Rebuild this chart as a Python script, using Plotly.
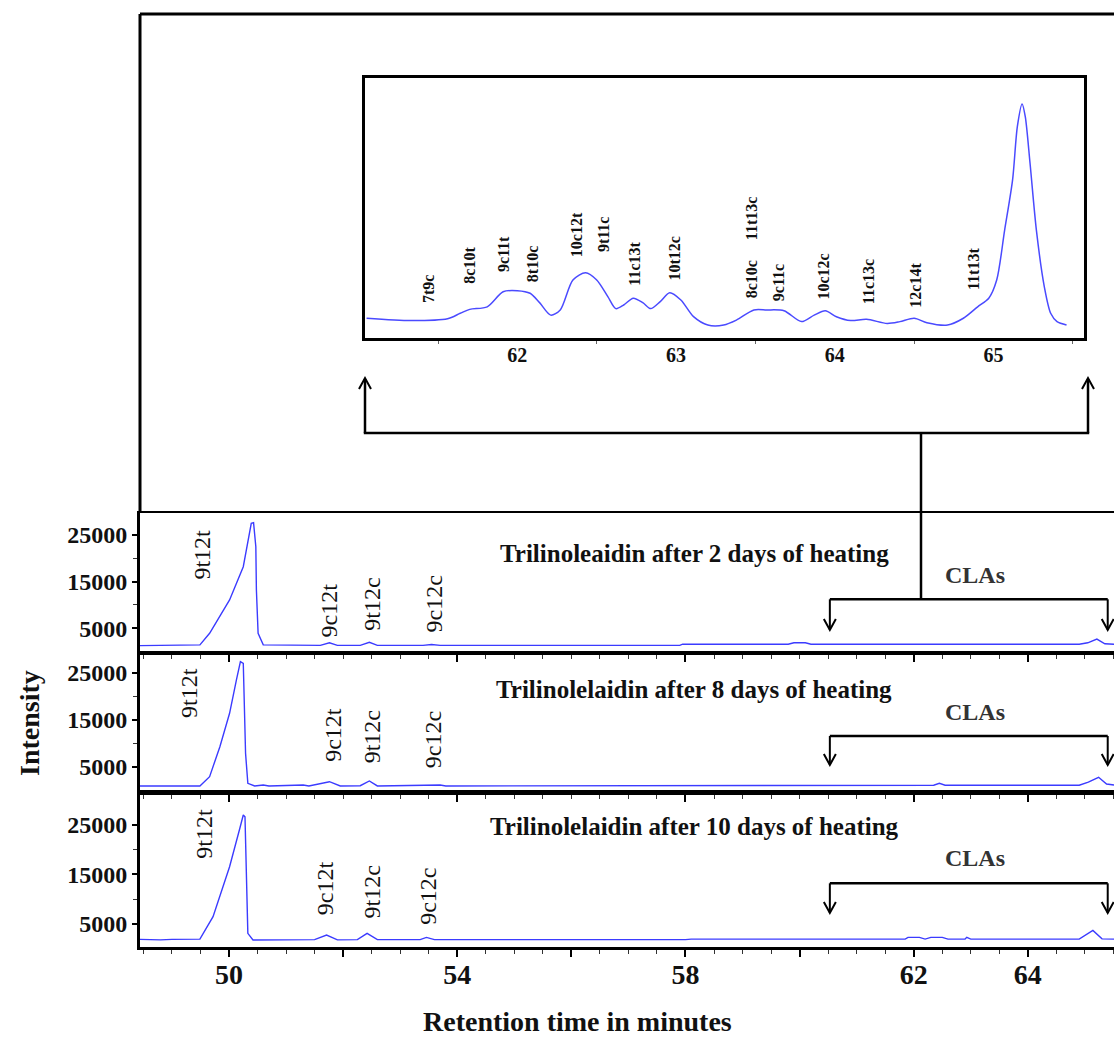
import plotly.graph_objects as go

W, H = 1114, 1041

# ---------------- data ----------------
# Panel 1: 2 days of heating
rt_2d = [48.44, 49.30, 49.49, 49.66, 49.84, 50.01, 50.25, 50.39, 50.43, 50.47, 50.48, 50.51, 50.60,
         51.00, 51.60, 51.76, 51.90, 52.30, 52.46, 52.60, 53.40, 53.55, 53.70, 57.90, 57.95,
         59.80, 59.90, 60.10, 60.20, 64.90, 65.05, 65.21, 65.35, 65.51]
int_2d = [1300, 1300, 1450, 3930, 7500, 11060, 18180, 27470, 27600, 22460, 13200, 3930, 1450,
          1350, 1350, 1900, 1350, 1350, 2000, 1350, 1350, 1550, 1350, 1350, 1600,
          1600, 1900, 1900, 1600, 1600, 1900, 2700, 1700, 1600]

# Panel 2: 8 days of heating
rt_8d = [48.44, 48.90, 49.10, 49.49, 49.66, 49.84, 50.01, 50.13, 50.20, 50.25, 50.27, 50.29, 50.33,
         50.45, 50.60, 50.70, 51.30, 51.40, 51.76, 51.95, 52.30, 52.46, 52.60, 53.40, 53.70,
         53.80, 57.90, 58.00, 62.35, 62.45, 62.55, 64.90, 65.06, 65.24, 65.38, 65.51]
int_8d = [900, 1000, 900, 900, 2870, 9260, 16370, 23470, 27370, 27020, 19200, 7850, 1460,
          900, 1100, 900, 1100, 900, 1800, 900, 950, 1950, 900, 1100, 1100,
          900, 900, 1050, 1050, 1450, 1050, 1050, 1700, 2740, 1300, 1100]

# Panel 3: 10 days of heating
rt_10d = [48.44, 48.80, 49.00, 49.49, 49.72, 50.01, 50.19, 50.25, 50.28, 50.30, 50.33, 50.42,
          51.00, 51.50, 51.71, 51.90, 52.25, 52.42, 52.60, 53.35, 53.46, 53.60, 58.00, 58.10,
          61.85, 61.90, 62.10, 62.20, 62.30, 62.50, 62.60, 62.90, 62.93, 63.00, 64.90, 65.14,
          65.30, 65.51]
int_10d = [1900, 1800, 1900, 1950, 6470, 16570, 24330, 27020, 26670, 16570, 3120, 1770,
           1800, 1850, 2780, 1800, 1850, 3120, 1850, 1850, 2300, 1850, 1850, 1950,
           1950, 2300, 2300, 1950, 2300, 2300, 1950, 1950, 2300, 1950, 1950, 3700,
           2000, 1950]

# Inset: CLA region (relative intensity)
inset_rt = [61.05, 61.33, 61.56, 61.64, 61.70, 61.81, 61.91, 62.00, 62.08, 62.14, 62.21, 62.27,
            62.35, 62.43, 62.50, 62.57, 62.62, 62.67, 62.73, 62.79, 62.84, 62.90, 62.96, 63.03,
            63.11, 63.20, 63.30, 63.38, 63.49, 63.57, 63.68, 63.79, 63.87, 63.94, 64.01, 64.10,
            64.20, 64.33, 64.41, 64.50, 64.58, 64.71, 64.81, 64.90, 64.97, 65.02, 65.07, 65.12,
            65.15, 65.18, 65.20, 65.23, 65.27, 65.32, 65.36, 65.40, 65.46]
inset_int = [7.6, 6.7, 7.4, 9.5, 11.0, 12.0, 17.8, 18.2, 17.2, 13.6, 8.8, 10.8,
             22.3, 25.1, 22.3, 15.9, 11.3, 12.7, 15.3, 13.6, 11.3, 14.0, 17.4, 14.6,
             8.2, 5.0, 5.0, 6.9, 10.8, 10.8, 10.5, 6.3, 8.8, 10.5, 8.2, 6.7,
             7.2, 5.6, 6.3, 7.6, 5.9, 5.0, 7.6, 12.0, 15.3, 22.3, 41.5, 60.8,
             81.3, 90.0, 85.1, 67.2, 41.5, 19.7, 9.5, 6.3, 5.0]

inset_labels = ["7t9c", "8c10t", "9c11t", "8t10c", "10c12t", "9t11c", "11c13t", "10t12c",
                "11t13c", "8c10c", "9c11c", "10c12c", "11c13c", "12c14t", "11t13t"]
inset_label_rt = [61.44, 61.70, 61.91, 62.10, 62.37, 62.54, 62.74, 62.99,
                  63.48, 63.48, 63.65, 63.93, 64.21, 64.51, 64.87]
inset_label_y = [19.0, 28.1, 32.3, 28.5, 39.6, 40.0, 28.5, 30.4,
                 46.2, 22.7, 21.2, 23.5, 21.5, 20.4, 26.5]

peak_labels = ["9t12t", "9c12t", "9t12c", "9c12c"]
peak_rt_2d = [49.52, 51.76, 52.50, 53.60]
peak_y_2d = [20690, 8920, 10200, 10200]
peak_rt_8d = [49.31, 51.82, 52.50, 53.58]
peak_y_8d = [20630, 11750, 11390, 10690]
peak_rt_10d = [49.57, 51.68, 52.50, 53.49]
peak_y_10d = [23320, 12210, 11520, 10510]

panel_titles = ["Trilinoleaidin after 2 days of heating",
                "Trilinolelaidin after 8 days of heating",
                "Trilinolelaidin after 10 days of heating"]

x_tick_vals = [50, 52, 54, 56, 58, 60, 62, 64]
x_tick_text = ["50", "", "54", "", "58", "", "62", "64"]
y_tick_vals = [5000, 15000, 25000]
y_tick_text = ["5000", "15000", "25000"]
inset_tick_vals = [62, 63, 64, 65]

CLA_START_RT = 60.53
CLA_END_RT = 65.40

# ---------------- helpers ----------------
def fx(px):
    return px / W

def fy(py):
    return 1 - py / H

SERIF = "Liberation Serif"
BLUE = "#3b3bff"
INK = "#111111"

fig = go.Figure()

fig.add_trace(go.Scatter(x=rt_2d, y=int_2d, mode="lines", line=dict(color=BLUE, width=1.4),
                         xaxis="x", yaxis="y", showlegend=False))
fig.add_trace(go.Scatter(x=rt_8d, y=int_8d, mode="lines", line=dict(color=BLUE, width=1.4),
                         xaxis="x2", yaxis="y2", showlegend=False))
fig.add_trace(go.Scatter(x=rt_10d, y=int_10d, mode="lines", line=dict(color=BLUE, width=1.4),
                         xaxis="x3", yaxis="y3", showlegend=False))
fig.add_trace(go.Scatter(x=inset_rt, y=inset_int, mode="lines",
                         line=dict(color="#4a4aff", width=1.5, shape="spline", smoothing=0.8),
                         xaxis="x4", yaxis="y4", showlegend=False))

XR = [48.44, 65.51]
xdom = [fx(140), 1.0]

def main_x(show_labels, lw):
    d = dict(domain=xdom, range=XR, showgrid=False, zeroline=False,
             showline=True, linecolor="black", linewidth=lw, mirror=True,
             tickmode="array", tickvals=x_tick_vals, ticktext=x_tick_text,
             ticks="outside", ticklen=7, tickwidth=1.5, tickcolor="black",
             minor=dict(dtick=0.5, tick0=50, ticks="outside", ticklen=4, tickwidth=1, tickcolor="#333"),
             showticklabels=show_labels,
             tickfont=dict(family=SERIF, size=28, color=INK, weight="bold"),
             ticklabelstandoff=-6)
    return d

def main_y(dom, rng):
    return dict(domain=dom, range=rng, showgrid=False, zeroline=False,
                showline=True, linecolor="black", linewidth=3,
                tickmode="array", tickvals=y_tick_vals, ticktext=y_tick_text,
                ticks="outside", ticklen=5, tickwidth=1.5, tickcolor="black",
                minor=dict(tickvals=[10000, 20000], ticks="outside", ticklen=4, tickwidth=1,
                           tickcolor="#333"),
                tickfont=dict(family=SERIF, size=24, color=INK, weight="bold"))

layout = dict(
    width=W, height=H, margin=dict(l=0, r=0, t=0, b=0),
    paper_bgcolor="white", plot_bgcolor="rgba(0,0,0,0)",
    xaxis=dict(main_x(False, 2), anchor="y"),
    xaxis2=dict(main_x(False, 2), anchor="y2", matches="x"),
    xaxis3=dict(main_x(True, 3), anchor="y3", matches="x"),
    yaxis=dict(main_y([fy(652.7), fy(513)], [-220, 29670]), anchor="x"),
    yaxis2=dict(main_y([fy(793.3), fy(652.7)], [-670, 29280]), anchor="x2"),
    yaxis3=dict(main_y([fy(946.7), fy(793.3)], [415, 31400]), anchor="x3"),
    xaxis4=dict(domain=[fx(365), fx(1084)], range=[61.04, 65.57], anchor="y4",
                showgrid=False, zeroline=False, showline=True, linecolor="black",
                linewidth=3, mirror=True, tickmode="array", tickvals=inset_tick_vals,
                ticks="", minor=dict(tickvals=[61.5, 62.5, 63.5, 64.5, 65.5], ticks="outside",
                                     ticklen=3, tickwidth=1, tickcolor="#666"),
                tickfont=dict(family=SERIF, size=20, color=INK, weight="bold"),
                ticklabelstandoff=-3),
    yaxis4=dict(domain=[fy(338), fy(78)], range=[0, 100], anchor="x4",
                showgrid=False, zeroline=False, showline=True, linecolor="black",
                linewidth=3, mirror=True, showticklabels=False, ticks=""),
)
fig.update_layout(**layout)

shapes = []
LW = 2.5

def pline(x0, y0, x1, y1, w=LW):
    shapes.append(dict(type="line", xref="paper", yref="paper",
                       x0=fx(x0), y0=fy(y0), x1=fx(x1), y1=fy(y1),
                       line=dict(color="black", width=w)))

def v_head_paper(px, tip, up):
    d = 11 if up else -11
    path = "M {} {} L {} {} L {} {}".format(fx(px - 6), fy(tip + d), fx(px), fy(tip),
                                            fx(px + 6), fy(tip + d))
    shapes.append(dict(type="path", xref="paper", yref="paper", path=path,
                       line=dict(color="black", width=2)))

# outer frame around the zoom region
pline(140, 14, 1114, 14, 3)
pline(140, 14, 140, 513, 3)

# bracket under the inset
pline(365, 433, 365, 379)
pline(1088, 433, 1088, 379)
v_head_paper(365, 378, True)
v_head_paper(1088, 378, True)
pline(363.8, 433, 1089.2, 433)
pline(921, 433, 921, 599.3)

# CLA brackets in each panel (x in retention time)
px_per_min = 974 / (XR[1] - XR[0])
half = 6 / px_per_min
for (yh, ytip) in [(599.3, 630), (736, 765), (883.3, 913)]:
    shapes.append(dict(type="line", xref="x", yref="paper", x0=CLA_START_RT, x1=CLA_END_RT,
                       y0=fy(yh), y1=fy(yh), line=dict(color="black", width=LW)))
    for xr in (CLA_START_RT, CLA_END_RT):
        shapes.append(dict(type="line", xref="x", yref="paper", x0=xr, x1=xr,
                           y0=fy(yh), y1=fy(ytip), line=dict(color="black", width=2)))
        path = "M {} {} L {} {} L {} {}".format(xr - half, fy(ytip - 11), xr, fy(ytip),
                                                xr + half, fy(ytip - 11))
        shapes.append(dict(type="path", xref="x", yref="paper", path=path,
                           line=dict(color="black", width=2)))

fig.update_layout(shapes=shapes)

ann = []
C = dict(xanchor="center", yanchor="middle", showarrow=False)
# inset peak labels
for t, x, y in zip(inset_labels, inset_label_rt, inset_label_y):
    ann.append(dict(text=t, x=x, y=y, xref="x4", yref="y4", textangle=-90,
                    font=dict(family=SERIF, size=16, color=INK, weight="bold"), **C))

# main peak labels
for (xs, ys, xr, yr) in [(peak_rt_2d, peak_y_2d, "x", "y"),
                         (peak_rt_8d, peak_y_8d, "x2", "y2"),
                         (peak_rt_10d, peak_y_10d, "x3", "y3")]:
    for t, x, y in zip(peak_labels, xs, ys):
        ann.append(dict(text=t, x=x, y=y, xref=xr, yref=yr, textangle=-90,
                        font=dict(family=SERIF, size=24, color=INK), **C))

# panel titles and CLA labels
for t, ty in zip(panel_titles, [553, 689, 826]):
    ann.append(dict(text=t, x=fx(694), y=fy(ty), xref="paper", yref="paper",
                    font=dict(family=SERIF, size=25, color=INK, weight="bold"), **C))
for cy in [575, 712, 858]:
    ann.append(dict(text="CLAs", x=fx(975), y=fy(cy), xref="paper", yref="paper",
                    font=dict(family=SERIF, size=24, color="#333333", weight="bold"), **C))

# axis titles
ann.append(dict(text="Retention time in minutes", x=fx(577), y=fy(1021), xref="paper",
                yref="paper", font=dict(family=SERIF, size=28, color=INK, weight="bold"), **C))
ann.append(dict(text="Intensity", x=fx(29), y=fy(723), xref="paper", yref="paper",
                textangle=-90, font=dict(family=SERIF, size=28, color=INK, weight="bold"), **C))

fig.update_layout(annotations=ann)

fig.write_html("out.html")
